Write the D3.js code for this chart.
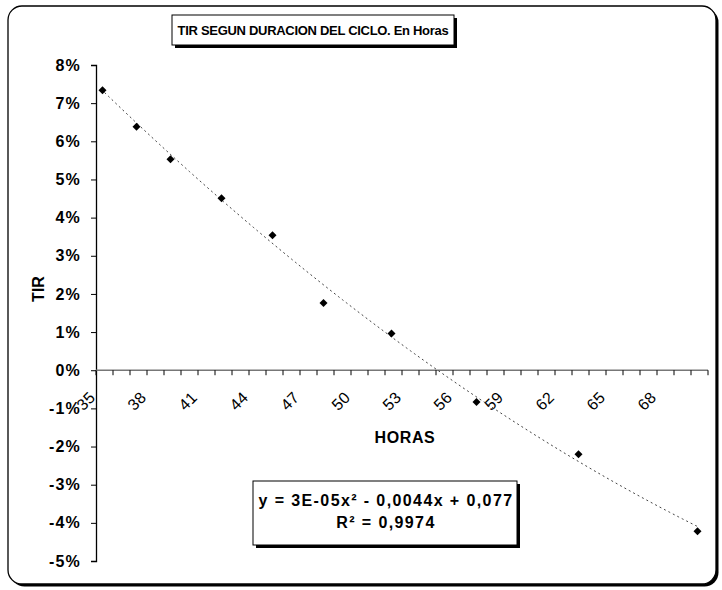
<!DOCTYPE html>
<html lang="es">
<head>
  <meta charset="UTF-8">
  <title>TIR segun duracion del ciclo</title>
  <style>
    body { margin: 0; background: #fff; }
    text { font-family: Arial, "Liberation Sans", sans-serif; fill: #000; }
  </style>
</head>
<body>
  <svg id="chart" width="722" height="590"></svg>

  <script src="https://cdn.jsdelivr.net/npm/d3@7"></script>
  <script>
    // Categories on the x axis (hours), every hour from 35 to 70
    const horas = [35, 36, 37, 38, 39, 40, 41, 42, 43, 44, 45, 46, 47, 48, 49, 50, 51, 52,
      53, 54, 55, 56, 57, 58, 59, 60, 61, 62, 63, 64, 65, 66, 67, 68, 69, 70]
    // Only every third category gets a label
    const xTickLabels = [35, 38, 41, 44, 47, 50, 53, 56, 59, 62, 65, 68]
    const yTicks = [-0.05, -0.04, -0.03, -0.02, -0.01, 0, 0.01, 0.02, 0.03, 0.04, 0.05, 0.06, 0.07, 0.08]

    // Measured points
    const pointHours = [35, 37, 39, 42, 45, 48, 52, 57, 63, 70]
    const tirValues = [0.0734, 0.0638, 0.0553, 0.0451, 0.0354, 0.0176, 0.0096, -0.0083, -0.0220, -0.0422]

    const title = 'TIR SEGUN DURACION DEL CICLO. En Horas'
    const equationLines = ['y = 3E-05x² - 0,0044x + 0,077', 'R² = 0,9974']

    const svg = d3.select('#chart')

    // Outer frame with shadow
    svg.append('rect')
      .attr('x', 10.5).attr('y', 8.5).attr('width', 708).attr('height', 578)
      .attr('rx', 14).attr('fill', '#000')
    svg.append('rect')
      .attr('x', 8).attr('y', 6).attr('width', 708).attr('height', 578)
      .attr('rx', 14).attr('fill', '#fff').attr('stroke', '#000').attr('stroke-width', 1.3)

    // Scales
    const x = d3.scaleBand()
      .domain(horas)
      .range([96, 708])
    const y = d3.scaleLinear()
      .domain([-0.05, 0.08])
      .range([561, 65])

    // Y axis
    const leftAxis = d3.axisLeft(y)
      .tickValues(yTicks)
      .tickFormat(d => Math.round(d * 100) + '%')
      .tickSize(5)
      .tickPadding(10)

    const yAxisG = svg.append('g')
      .attr('transform', 'translate(96, 0)')
      .call(leftAxis)
    yAxisG.select('.domain').attr('stroke', '#000').attr('stroke-width', 1.3)
    yAxisG.selectAll('text')
      .attr('font-size', 16)
      .attr('font-weight', 'bold')
      .attr('letter-spacing', 1.2)
      .attr('font-family', 'Arial, "Liberation Sans", sans-serif')

    // X axis: line at 0%, ticks between categories, rotated labels
    const y0 = y(0)
    const xAxisG = svg.append('g')
    xAxisG.append('line')
      .attr('x1', x.range()[0]).attr('x2', x.range()[1])
      .attr('y1', y0).attr('y2', y0)
      .attr('stroke', '#777').attr('stroke-width', 1.3)
    const tickPos = horas.map(h => x(h)).concat([x.range()[1]])
    xAxisG.selectAll('.xtick')
      .data(tickPos)
      .enter()
      .append('line')
      .attr('class', 'xtick')
      .attr('x1', d => d).attr('x2', d => d)
      .attr('y1', y0).attr('y2', y0 + 5)
      .attr('stroke', '#000')
    xAxisG.selectAll('.xlabel')
      .data(xTickLabels)
      .enter()
      .append('text')
      .attr('class', 'xlabel')
      .attr('font-size', 16)
      .attr('letter-spacing', 0.5)
      .attr('text-anchor', 'end')
      .attr('transform', d => `translate(${x(d) + x.bandwidth() / 2 - 8}, ${y0 + 28}) rotate(-45)`)
      .text(d => d)

    // Axis titles
    svg.append('text')
      .attr('x', 405).attr('y', 443)
      .attr('text-anchor', 'middle')
      .attr('font-size', 16).attr('font-weight', 'bold')
      .attr('letter-spacing', 0.6)
      .text('HORAS')
    svg.append('text')
      .attr('transform', 'translate(44, 289) rotate(-90)')
      .attr('text-anchor', 'middle')
      .attr('font-size', 16).attr('font-weight', 'bold')
      .text('TIR')

    // Polynomial (order 2) trendline fitted on category index 1..36
    const idx = pointHours.map(h => horas.indexOf(h) + 1)
    const fitQuadratic = (xs, ys) => {
      const s = [0, 0, 0, 0, 0]
      const t = [0, 0, 0]
      xs.forEach((xv, i) => {
        for (let k = 0; k < 5; k += 1) s[k] += Math.pow(xv, k)
        for (let k = 0; k < 3; k += 1) t[k] += Math.pow(xv, k) * ys[i]
      })
      // solve [[s0 s1 s2][s1 s2 s3][s2 s3 s4]] * [c b a] = t
      const m = [[s[0], s[1], s[2], t[0]], [s[1], s[2], s[3], t[1]], [s[2], s[3], s[4], t[2]]]
      for (let i = 0; i < 3; i += 1) {
        for (let j = i + 1; j < 3; j += 1) {
          const f = m[j][i] / m[i][i]
          for (let k = i; k < 4; k += 1) m[j][k] -= f * m[i][k]
        }
      }
      const c = [0, 0, 0]
      for (let i = 2; i >= 0; i -= 1) {
        let v = m[i][3]
        for (let k = i + 1; k < 3; k += 1) v -= m[i][k] * c[k]
        c[i] = v / m[i][i]
      }
      return c
    }
    const coef = fitQuadratic(idx, tirValues)
    const trendX = d3.scaleLinear()
      .domain([1, horas.length])
      .range([x(horas[0]) + x.bandwidth() / 2, x(horas[horas.length - 1]) + x.bandwidth() / 2])
    const samples = d3.range(1, horas.length + 0.01, 0.25)
    svg.append('path')
      .datum(samples)
      .attr('fill', 'none')
      .attr('stroke', '#444')
      .attr('stroke-width', 1)
      .attr('stroke-dasharray', '2,3')
      .attr('d', d3.line()
        .x(t => trendX(t))
        .y(t => y(coef[0] + coef[1] * t + coef[2] * t * t)))

    // Markers
    svg.selectAll('.pt')
      .data(pointHours.map((h, i) => ({ h, v: tirValues[i] })))
      .enter()
      .append('path')
      .attr('class', 'pt')
      .attr('transform', d => `translate(${x(d.h) + x.bandwidth() / 2 - 2}, ${y(d.v)}) rotate(45)`)
      .attr('d', d3.symbol(d3.symbolSquare, 32))
      .attr('fill', '#000')

    // Chart title box with shadow
    svg.append('rect')
      .attr('x', 175).attr('y', 18).attr('width', 282).attr('height', 30).attr('fill', '#000')
    svg.append('rect')
      .attr('x', 172).attr('y', 15).attr('width', 282).attr('height', 30)
      .attr('fill', '#fff').attr('stroke', '#000').attr('stroke-width', 1)
    svg.append('text')
      .attr('x', 313).attr('y', 35)
      .attr('text-anchor', 'middle')
      .attr('font-size', 13).attr('font-weight', 'bold')
      .attr('letter-spacing', -0.3)
      .text(title)

    // Equation box with shadow
    svg.append('rect')
      .attr('x', 256).attr('y', 484).attr('width', 264).attr('height', 64).attr('fill', '#000')
    svg.append('rect')
      .attr('x', 253).attr('y', 481).attr('width', 264).attr('height', 64)
      .attr('fill', '#fff').attr('stroke', '#000').attr('stroke-width', 1)
    svg.selectAll('.eq')
      .data(equationLines)
      .enter()
      .append('text')
      .attr('class', 'eq')
      .attr('x', 386)
      .attr('y', (d, i) => 506 + i * 22)
      .attr('text-anchor', 'middle')
      .attr('font-size', 16).attr('font-weight', 'bold')
      .attr('letter-spacing', 1.4)
      .text(d => d)
  </script>
</body>
</html>
